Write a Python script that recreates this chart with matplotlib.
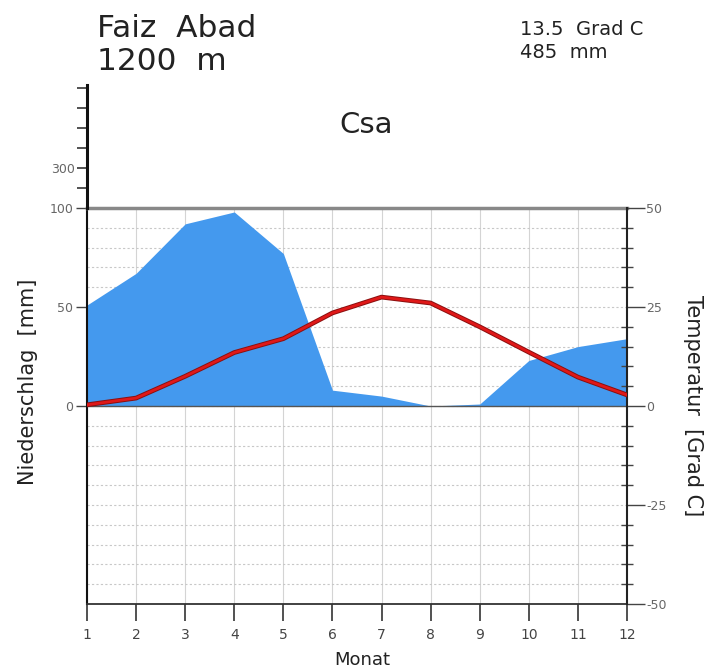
import numpy as np
import matplotlib.pyplot as plt
from matplotlib.ticker import MultipleLocator

months = list(range(1, 13))
precip = [51, 67, 92, 98, 77, 8, 5, 0, 1, 23, 30, 34]
temp = [0.3, 2.0, 7.5, 13.5, 17.0, 23.5, 27.5, 26.0, 20.0, 13.6, 7.3, 2.8]
station = "Faiz  Abad"
altitude = "1200  m"
mean_temp = "13.5  Grad C"
sum_precip = "485  mm"
climate = "Csa"

W, H = 707, 670
fig = plt.figure(figsize=(W / 100, H / 100), dpi=100)
plt.rcParams['font.family'] = 'DejaVu Sans'


def box(x0, y0, x1, y1):
    return [x0 / W, 1 - y1 / H, (x1 - x0) / W, (y1 - y0) / H]


#######################################################################################
# main diagram: precipitation in mm (0..100), temperature twin axis (-50..50)

ax = fig.add_axes(box(87, 208, 627, 604))
ax.set_xlim(1, 12)
ax.set_ylim(-100, 100)

ax.fill_between(months, 0, precip, color='#4499ee', lw=0, zorder=2)

ax.set_xticks(months)
ax.set_xticklabels([str(m) for m in months], fontsize=10, color='#444444')
ax.tick_params(axis='x', direction='out', length=12, width=1.2, pad=5, color='#333333')
ax.set_yticks([0, 50, 100])
ax.set_yticklabels(['0', '50', '100'], fontsize=9, color='#666666')
ax.tick_params(axis='y', direction='out', length=8, width=1.0, pad=2, color='#444444')

for m in months:
    ax.axvline(m, color='#d4d4d4', lw=0.8, zorder=1)
for yv in np.arange(-90, 100, 10):
    ax.axhline(yv, color='#c8c8c8', lw=0.8, ls=(0, (2, 2)), zorder=1)
ax.axhline(0, color='#555555', lw=1.0, zorder=3)

ax.spines['left'].set_color('#111111')
ax.spines['left'].set_linewidth(1.5)
ax.spines['bottom'].set_color('#333333')
ax.spines['bottom'].set_linewidth(1.3)
ax.spines['right'].set_visible(False)
ax.spines['top'].set_color('#888888')
ax.spines['top'].set_linewidth(2.5)

ax2 = ax.twinx()
ax2.set_ylim(-50, 50)
ax2.plot(months, temp, color='#8a1010', lw=3.4, zorder=4, solid_joinstyle='round')
ax2.plot(months, temp, color='#e01818', lw=2.0, zorder=5, solid_joinstyle='round')
ax2.set_yticks([-50, -25, 0, 25, 50])
ax2.set_yticklabels(['-50', '-25', '0', '25', '50'], fontsize=9, color='#666666')
ax2.yaxis.set_minor_locator(MultipleLocator(5))
ax2.tick_params(axis='y', which='major', direction='out', length=13, width=1.0, pad=1, color='#444444')
ax2.tick_params(axis='y', which='minor', direction='inout', length=9, width=1.0, color='#444444')
for s in ['left', 'top', 'bottom']:
    ax2.spines[s].set_visible(False)
ax2.spines['right'].set_color('#222222')
ax2.spines['right'].set_linewidth(1.5)

#######################################################################################
# compressed scale above 100 mm

ax3 = fig.add_axes(box(87, 85, 627, 208))
ax3.set_ylim(100, 715)
ax3.set_xlim(0, 1)
ax3.patch.set_visible(False)
for s in ['right', 'top', 'bottom']:
    ax3.spines[s].set_visible(False)
ax3.spines['left'].set_color('#111111')
ax3.spines['left'].set_linewidth(2.2)
ax3.set_xticks([])
ax3.set_yticks(range(200, 800, 100))
ax3.set_yticklabels(['', '300', '', '', '', ''], fontsize=9, color='#666666')
ax3.tick_params(axis='y', direction='out', length=7, width=1.2, pad=2, color='#333333')

#######################################################################################
# texts

fig.text(97 / W, 1 - 37 / H, station, fontsize=22.5, va='baseline', ha='left', color='#222222')
fig.text(97 / W, 1 - 70 / H, altitude, fontsize=22.5, va='baseline', ha='left', color='#222222')
fig.text(520 / W, 1 - 35 / H, mean_temp, fontsize=14, va='baseline', ha='left', color='#222222')
fig.text(520 / W, 1 - 58 / H, sum_precip, fontsize=14, va='baseline', ha='left', color='#222222')
fig.text(366 / W, 1 - 133 / H, climate, fontsize=21, va='baseline', ha='center', color='#222222')

fig.text(28 / W, 1 - 382 / H, 'Niederschlag  [mm]', fontsize=15, rotation=90,
         va='center', ha='center', color='#222222')
fig.text(693 / W, 1 - 406 / H, 'Temperatur  [Grad C]', fontsize=15, rotation=-90,
         va='center', ha='center', color='#222222')
fig.text(362 / W, 1 - 660 / H, 'Monat', fontsize=13, va='center', ha='center', color='#222222')

fig.savefig('out.png', dpi=100)
